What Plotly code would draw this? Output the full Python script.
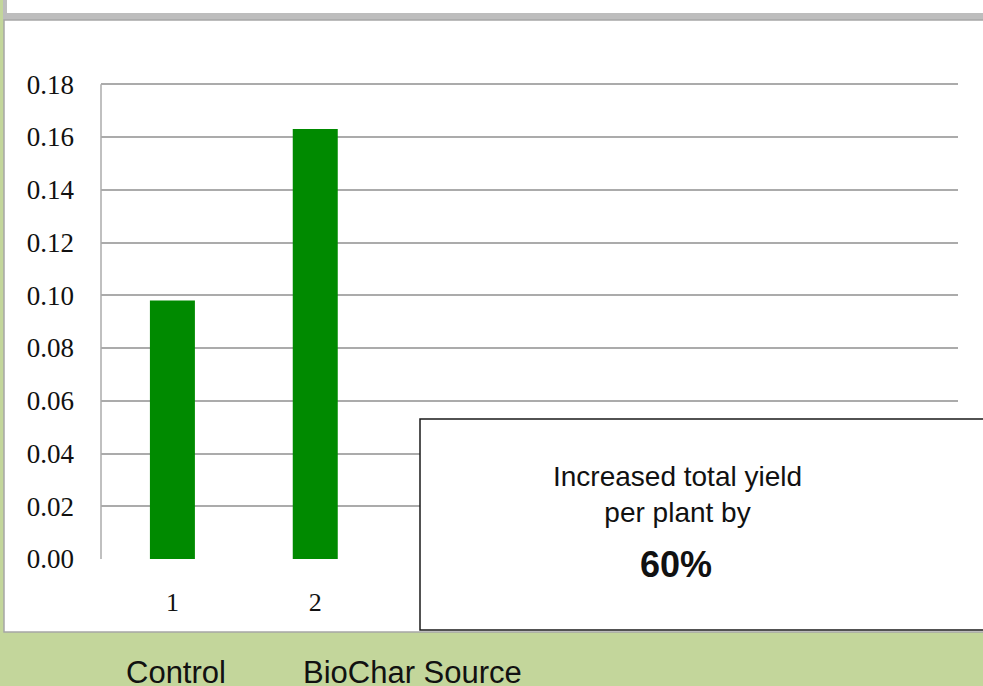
import plotly.graph_objects as go

categories = [1, 2]
values = [0.098, 0.163]
y_ticks = [0.00, 0.02, 0.04, 0.06, 0.08, 0.10, 0.12, 0.14, 0.16, 0.18]
x_tick_labels = ["1", "2"]
bottom_labels = ["Control", "BioChar Source"]
box_lines = ["Increased total yield", "per plant by"]
box_highlight = "60%"

W, H = 983, 686
L, R, T, B = 101, 25, 79, 127
PW = W - L - R
PH = H - T - B
Y_MAX = 0.182


def px(x):
    return (x - L) / PW


def py(y):
    return (H - B - y) / PH


fig = go.Figure()
fig.add_trace(go.Bar(
    x=categories, y=values, width=0.315,
    marker=dict(color="#008a00", line=dict(width=0)),
))

shapes = [
    # top gray band
    dict(type="rect", xref="paper", yref="paper", x0=px(3), x1=px(995), y0=py(20), y1=py(-5),
         fillcolor="#bdbdbd", line=dict(width=0), layer="below"),
    dict(type="rect", xref="paper", yref="paper", x0=px(7), x1=px(995), y0=py(13), y1=py(-5),
         fillcolor="white", line=dict(width=0), layer="below"),
    # main white panel
    dict(type="rect", xref="paper", yref="paper", x0=px(4), x1=px(995), y0=py(632), y1=py(20),
         fillcolor="white", line=dict(color="#a6a6a6", width=1.5), layer="below"),
    # y axis line
    dict(type="line", xref="paper", yref="y", x0=0, x1=0, y0=y_ticks[0], y1=y_ticks[-1],
         line=dict(color="#ababab", width=1.5), layer="between"),
    # text box
    dict(type="rect", xref="paper", yref="paper", x0=px(420), x1=px(995), y0=py(630), y1=py(419),
         fillcolor="white", line=dict(color="#1a1a1a", width=1.5), layer="above"),
]

annotations = [
    dict(xref="paper", yref="paper", x=px(677), y=py(494), text="<br>".join(box_lines),
         showarrow=False, font=dict(family="Liberation Sans, Arial", size=28, color="#111"),
         xanchor="center", yanchor="middle"),
    dict(xref="paper", yref="paper", x=px(676), y=py(564), text="<b>" + box_highlight + "</b>",
         showarrow=False, font=dict(family="Liberation Sans, Arial", size=36, color="#111"),
         xanchor="center", yanchor="middle"),
    dict(xref="paper", yref="paper", x=px(176), y=py(672), text=bottom_labels[0],
         showarrow=False, font=dict(family="Liberation Sans, Arial", size=31, color="#111"),
         xanchor="center", yanchor="middle"),
    dict(xref="paper", yref="paper", x=px(412), y=py(672), text=bottom_labels[1],
         showarrow=False, font=dict(family="Liberation Sans, Arial", size=31, color="#111"),
         xanchor="center", yanchor="middle"),
]

fig.update_layout(
    width=W, height=H,
    margin=dict(l=L, r=R, t=T, b=B, pad=0),
    paper_bgcolor="#c3d69b",
    plot_bgcolor="rgba(0,0,0,0)",
    showlegend=False,
    shapes=shapes,
    annotations=annotations,
    xaxis=dict(
        range=[0.5, 6.5], tickvals=categories, ticktext=x_tick_labels,
        showgrid=False, zeroline=False, showline=False, ticks="",
        tickfont=dict(family="Liberation Serif, Times New Roman", size=26, color="#111"),
        ticklabelstandoff=25,
    ),
    yaxis=dict(
        range=[0, Y_MAX], tickvals=y_ticks, tickformat=".2f",
        showgrid=True, gridcolor="#ababab", gridwidth=1.5,
        zeroline=False, showline=False,
        ticks="", tickfont=dict(family="Liberation Serif, Times New Roman", size=27, color="#111"),
        ticklabelstandoff=26,
    ),
)

fig.write_html(
    "out.html",
    config={"displayModeBar": False},
    post_script="document.body.style.margin='0';document.body.style.overflow='hidden';",
)
